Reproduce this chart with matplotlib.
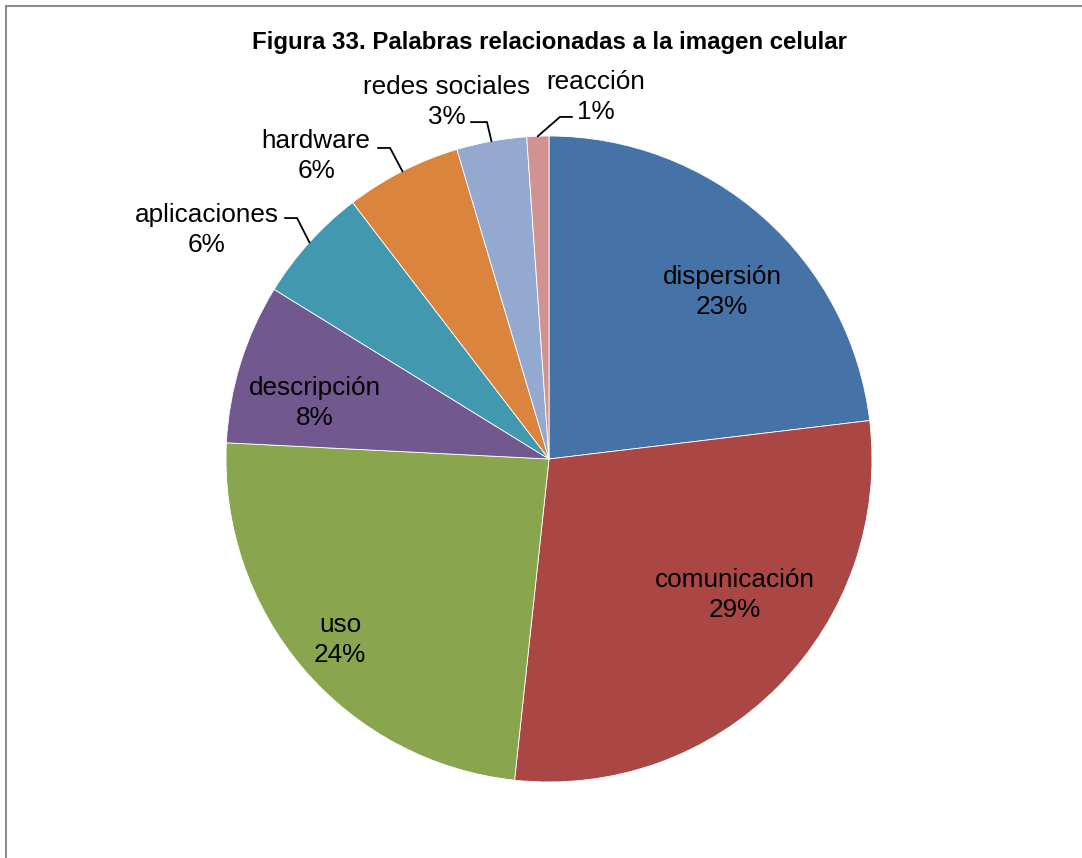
import matplotlib
matplotlib.use("Agg")
import matplotlib.pyplot as plt
from matplotlib.lines import Line2D
import numpy as np

plt.rcParams['font.family'] = ['Liberation Sans', 'DejaVu Sans']

labels = ['dispersión', 'comunicación', 'uso', 'descripción',
          'aplicaciones', 'hardware', 'redes sociales', 'reacción']
values = [23.1, 28.6, 24.1, 8.0, 5.8, 5.8, 3.5, 1.1]
pct_text = ['23%', '29%', '24%', '8%', '6%', '6%', '3%', '1%']
colors = ['#4572A7', '#AA4643', '#89A54E', '#71588F',
          '#4198AF', '#DB843D', '#93A9CF', '#D19392']

# label placement (data units, pie radius = 1)
label_pos = [(0.536, 0.517), (0.576, -0.421), (-0.647, -0.560), (-0.724, 0.173),
             (-1.059, 0.709), (-0.721, 0.938), (-0.316, 1.105), (0.146, 1.121)]
# leader lines for outside labels: (label end, knee)
leaders = {4: ((-0.817, 0.746), (-0.780, 0.746)),
           5: ((-0.529, 0.963), (-0.492, 0.963)),
           6: ((-0.241, 1.043), (-0.192, 1.043)),
           7: ((0.071, 1.059), (0.034, 1.059))}

fig = plt.figure(figsize=(10.82, 8.58), dpi=100)
ax = fig.add_axes([0, 0, 1, 1])

wedges, _ = ax.pie(values, colors=colors, startangle=90, counterclock=False,
                   wedgeprops=dict(edgecolor='white', linewidth=0.6))

for i, w in enumerate(wedges):
    x, y = label_pos[i]
    ax.text(x, y, labels[i] + '\n' + pct_text[i], ha='center', va='center',
            fontsize=18.8, linespacing=1.32, color='black')
    if i in leaders:
        mid = np.deg2rad((w.theta1 + w.theta2) / 2)
        ex, ey = np.cos(mid), np.sin(mid)
        (lx, ly), (kx, ky) = leaders[i]
        ax.plot([lx, kx, ex], [ly, ky, ey], color='black', lw=1.3,
                solid_joinstyle='miter')

ax.set_xlim(-549 / 323, (1082 - 549) / 323)
ax.set_ylim((459 - 858) / 323, 459 / 323)
ax.set_aspect('auto')
ax.axis('off')

fig.text(549 / 1082, 1 - 42 / 858, 'Figura 33. Palabras relacionadas a la imagen celular',
         ha='center', va='center', fontsize=17.3, fontweight='bold')

# chart frame (cropped on right and bottom)
fig.add_artist(Line2D([6 / 1082, 1], [1 - 6 / 858, 1 - 6 / 858], color='#8c8c8c', lw=1.5))
fig.add_artist(Line2D([6 / 1082, 6 / 1082], [0, 1 - 6 / 858], color='#8c8c8c', lw=1.5))

fig.savefig('out.png', dpi=100)
